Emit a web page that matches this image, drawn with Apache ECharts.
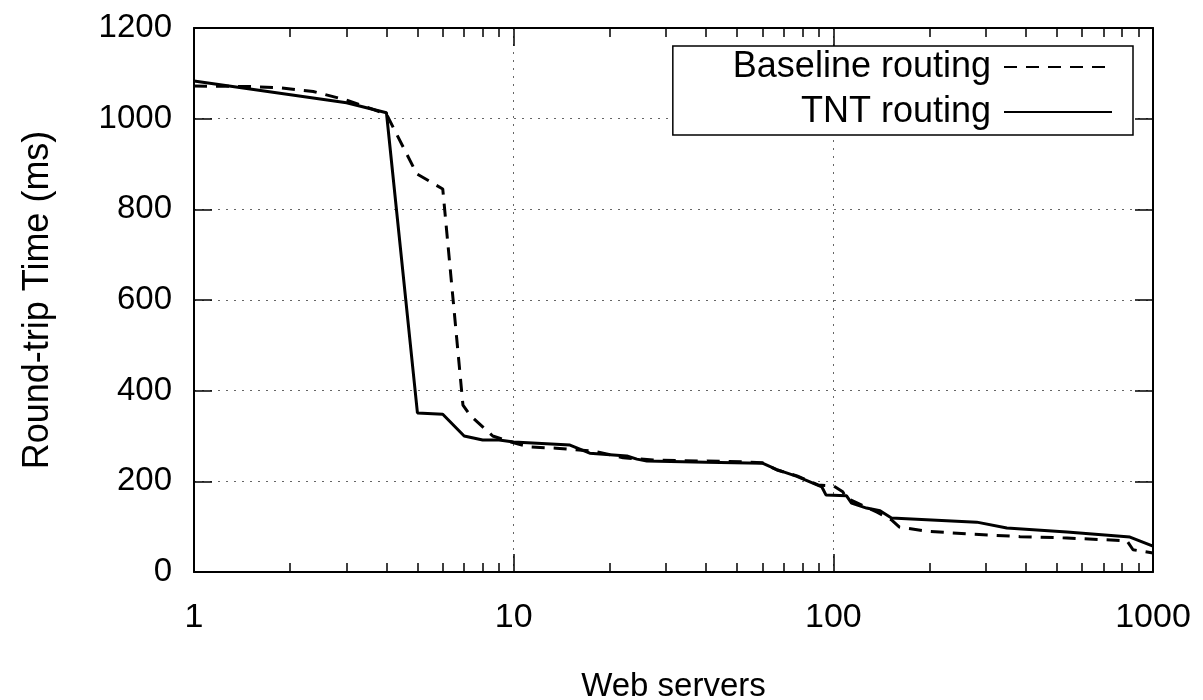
<!DOCTYPE html>
<html><head><meta charset="utf-8">
<script src="https://cdn.jsdelivr.net/npm/echarts@6/dist/echarts.min.js"></script>
<style>html,body{margin:0;padding:0;background:#fff}#c{width:1203px;height:700px}</style>
</head><body><div id="c"></div>
<script>
// ---- data ----
const seriesNames = ['Baseline routing', 'TNT routing'];
const xTitle = 'Web servers';
const yTitle = 'Round-trip Time (ms)';

const baseX = [1, 1.5, 1.86, 2.36, 3, 4, 4.98, 6.0, 6.94, 7.3, 8.6, 10, 11.2, 13.6, 17.7, 22, 27.3, 53, 60, 66.6, 77, 89.6, 100, 107, 110, 137, 152, 161, 196, 262, 384, 538, 829, 866, 1000];
const baseY = [1072, 1071, 1068, 1060, 1041, 1010, 878, 845, 368, 346, 300, 285, 276, 273, 267, 252, 247, 243, 241, 225, 212, 192, 190, 177, 163, 132, 115, 99, 90, 84, 78, 75, 69, 49, 42];

const tntX = [1, 3, 4, 5, 6, 7, 8, 9, 10, 15, 16.4, 17.3, 22.6, 24.3, 26.1, 40, 60, 66.6, 76.9, 86.3, 92, 94.8, 110, 114, 127, 140, 152, 281, 349, 538, 847, 1000];
const tntY = [1083, 1035, 1013, 351, 348, 300, 291, 291, 287, 280, 269, 262, 256, 249, 245, 242, 240, 226, 211, 196, 188, 170, 168, 152, 141, 135, 119, 110, 97, 88, 77, 57];

const xMajorTicks = [1, 10, 100, 1000];
const xMinorTicks = [2, 3, 4, 5, 6, 7, 8, 9, 20, 30, 40, 50, 60, 70, 80, 90, 200, 300, 400, 500, 600, 700, 800, 900];
const yMin = 0, yMax = 1200, yStep = 200;

// ---- chart ----
const FONT = 'Liberation Sans';
const chart = echarts.init(document.getElementById('c'), null, {renderer: 'canvas'});
const pairs = (xs, ys) => xs.map((x, i) => [x, ys[i]]);
const plain = v => String(Math.round(v));

function xAxisDef(position, ticks, len, withLine, main) {
  return {
    type: 'log', logBase: 10, min: xMajorTicks[0], max: xMajorTicks[xMajorTicks.length - 1],
    position: position, gridIndex: 0,
    axisLine: {show: withLine, onZero: false, lineStyle: {color: '#000', width: 2}},
    axisTick: {show: true, inside: true, length: len, customValues: ticks, lineStyle: {color: '#000', width: 1.5}},
    axisLabel: main ? {show: true, customValues: xMajorTicks, formatter: plain, fontSize: 34, fontFamily: FONT, color: '#000', margin: 29} : {show: false},
    splitLine: main ? {show: true, lineStyle: {color: '#666', width: 1, type: [2, 6]}} : {show: false},
    minorTick: {show: false}, minorSplitLine: {show: false},
    name: main ? xTitle : '', nameLocation: 'middle', nameGap: 98,
    nameTextStyle: {fontSize: 33, fontFamily: FONT, color: '#000'}
  };
}
function yAxisDef(position, main) {
  return {
    type: 'value', min: yMin, max: yMax, interval: yStep, position: position, gridIndex: 0,
    axisLine: {show: true, onZero: false, lineStyle: {color: '#000', width: 2}},
    axisTick: {show: true, inside: true, length: 18, lineStyle: {color: '#000', width: 1.5}},
    axisLabel: main ? {show: true, formatter: plain, fontSize: 33, fontFamily: FONT, color: '#000', margin: 22} : {show: false},
    splitLine: main ? {show: true, lineStyle: {color: '#666', width: 1, type: [2, 6]}} : {show: false},
    name: main ? yTitle : '', nameLocation: 'middle', nameGap: 138, nameRotate: 90,
    nameTextStyle: {fontSize: 36, fontFamily: FONT, color: '#000'}
  };
}

chart.setOption({
  animation: false,
  backgroundColor: '#fff',
  grid: {left: 194, right: 50, top: 28, bottom: 128, containLabel: false, outerBoundsMode: 'none'},
  xAxis: [
    xAxisDef('bottom', xMajorTicks, 18, true, true),
    xAxisDef('bottom', xMinorTicks, 9, false, false),
    xAxisDef('top', xMajorTicks, 18, true, false),
    xAxisDef('top', xMinorTicks, 9, false, false)
  ],
  yAxis: [yAxisDef('left', true), yAxisDef('right', false)],
  legend: {
    data: seriesNames, orient: 'vertical', align: 'right',
    right: 70, top: 46, itemWidth: 108, itemHeight: 14, itemGap: 9,
    padding: [3, 20, 5, 60],
    backgroundColor: '#fff', borderColor: '#000', borderWidth: 1.5, borderRadius: 0,
    itemStyle: {opacity: 0},
    textStyle: {fontSize: 36, lineHeight: 36, fontFamily: FONT, color: '#000', padding: [0, 8, 0, 0]},
    selectedMode: false
  },
  series: [
    {name: seriesNames[0], type: 'line', xAxisIndex: 0, yAxisIndex: 0, data: pairs(baseX, baseY),
     symbol: 'none', showSymbol: false, lineStyle: {color: '#000', width: 3, type: [13, 9]}, itemStyle: {color: '#000'}},
    {name: seriesNames[1], type: 'line', xAxisIndex: 0, yAxisIndex: 0, data: pairs(tntX, tntY),
     symbol: 'none', showSymbol: false, lineStyle: {color: '#000', width: 3, type: 'solid'}, itemStyle: {color: '#000'}}
  ]
});
</script></body></html>
